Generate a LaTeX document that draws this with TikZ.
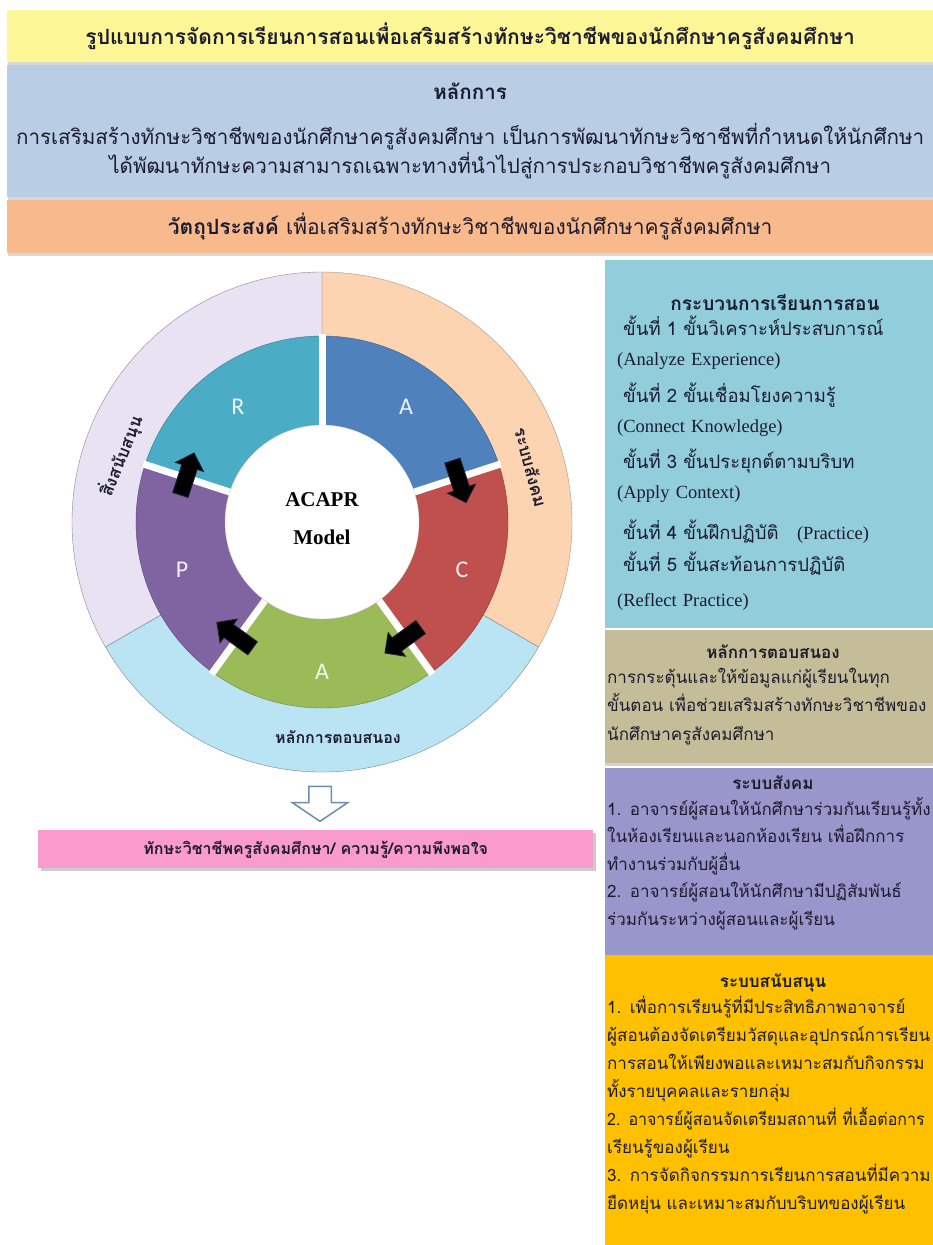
\documentclass[tikz,border=0pt]{standalone}
\usepackage{fontspec}
\setmainfont{Liberation Serif}
\newfontfamily\thaifont[Script=Thai]{Loma}
\newfontfamily\lettersans{Carlito}
\usetikzlibrary{shapes.arrows,shadows}

\definecolor{bannerYellow}{RGB}{252,246,150}
\definecolor{bannerBlue}{RGB}{185,205,229}
\definecolor{bannerOrange}{RGB}{248,186,140}
\definecolor{procBlue}{RGB}{146,205,220}
\definecolor{respTan}{RGB}{196,189,151}
\definecolor{socPurple}{RGB}{152,150,202}
\definecolor{supGold}{RGB}{255,192,0}
\definecolor{goalPink}{RGB}{250,155,205}
\definecolor{ringPeach}{RGB}{252,212,178}
\definecolor{ringLilac}{RGB}{233,226,242}
\definecolor{ringCyan}{RGB}{186,228,244}
\definecolor{segBlue}{RGB}{79,129,189}
\definecolor{segRed}{RGB}{192,80,77}
\definecolor{segGreen}{RGB}{155,187,89}
\definecolor{segPurple}{RGB}{128,100,162}
\definecolor{segTeal}{RGB}{75,172,198}
\definecolor{inkNavy}{RGB}{28,28,48}
\definecolor{arrowEdge}{RGB}{110,140,175}

\begin{document}
\begin{tikzpicture}[x=1pt,y=-1pt,
  band/.style={inner sep=0pt,anchor=north west,minimum width=926,text=inkNavy,
    drop shadow={opacity=0.3,shadow xshift=0.5pt,shadow yshift=-2.5pt}},
  boxhead/.style={text=inkNavy,font=\thaifont\bfseries\fontsize{17}{20}\selectfont},
  boxbody/.style={anchor=base west,inner sep=0pt,align=left,text width=330,text=inkNavy},
  segletter/.style={text=white,opacity=0.9,font=\lettersans\fontsize{24}{24}\selectfont},
  ringtext/.style={text=inkNavy,font=\thaifont\bfseries\fontsize{16}{16}\selectfont},
  flowarrow/.style={single arrow,fill=black,draw=inkNavy,line width=1,minimum height=44,
    inner sep=7.5pt,single arrow head extend=6.5pt}]
  \fill[white] (0,0) rectangle (933,1245);
  \useasboundingbox (0,0) rectangle (933,1245);

  % banners across the top
  \node[band,fill=bannerYellow,minimum height=52,
    font=\thaifont\bfseries\fontsize{21}{24}\selectfont] (title) at (7,10)
    {รูปแบบการจัดการเรียนการสอนเพื่อเสริมสร้างทักษะวิชาชีพของนักศึกษาครูสังคมศึกษา};
  \node[band,fill=bannerBlue,minimum height=132,align=center,
    font=\thaifont\fontsize{20.6}{29}\selectfont] (principle) at (7,65)
    {{\bfseries หลักการ}\\[16pt]
     การเสริมสร้างทักษะวิชาชีพของนักศึกษาครูสังคมศึกษา เป็นการพัฒนาทักษะวิชาชีพที่กำหนดให้นักศึกษา\\
     ได้พัฒนาทักษะความสามารถเฉพาะทางที่นำไปสู่การประกอบวิชาชีพครูสังคมศึกษา};
  \node[band,fill=bannerOrange,minimum height=53,
    font=\thaifont\fontsize{21}{24}\selectfont] (aim) at (7,200)
    {{\bfseries วัตถุประสงค์} เพื่อเสริมสร้างทักษะวิชาชีพของนักศึกษาครูสังคมศึกษา};

  % right column
  \fill[procBlue] (605,260) rectangle (933,628);
  \node[boxhead,font=\thaifont\bfseries\fontsize{19}{22}\selectfont] (procHead) at (775,302)
    {กระบวนการเรียนการสอน};
  \node[boxbody,font=\fontsize{18.5}{30}\selectfont] (procBody) at (617,335)
    {\hspace*{6pt}{\thaifont ขั้นที่ 1 ขั้นวิเคราะห์ประสบการณ์}\\
     (Analyze Experience)\\[7pt]
     \hspace*{6pt}{\thaifont ขั้นที่ 2 ขั้นเชื่อมโยงความรู้}\\
     (Connect Knowledge)\\[6pt]
     \hspace*{6pt}{\thaifont ขั้นที่ 3 ขั้นประยุกต์ตามบริบท}\\
     (Apply Context)\\[11pt]
     \hspace*{6pt}{\thaifont ขั้นที่ 4 ขั้นฝึกปฏิบัติ}\quad(Practice)\\[2pt]
     \hspace*{6pt}{\thaifont ขั้นที่ 5 ขั้นสะท้อนการปฏิบัติ}\\[5pt]
     (Reflect Practice)};

  \fill[respTan,drop shadow={opacity=0.35,shadow xshift=0pt,shadow yshift=-3pt}]
    (605,630) rectangle (933,763);
  \node[boxhead] (respHead) at (773,652) {หลักการตอบสนอง};
  \node[boxbody,font=\thaifont\fontsize{17}{28.5}\selectfont] (respBody) at (607,683)
    {การกระตุ้นและให้ข้อมูลแก่ผู้เรียนในทุก\\
     ขั้นตอน เพื่อช่วยเสริมสร้างทักษะวิชาชีพของ\\
     นักศึกษาครูสังคมศึกษา};

  \fill[socPurple] (605,768) rectangle (933,955);
  \node[boxhead] (socHead) at (773,783) {ระบบสังคม};
  \node[boxbody,font=\thaifont\fontsize{17}{27.5}\selectfont] (socBody) at (607,815)
    {1. อาจารย์ผู้สอนให้นักศึกษาร่วมกันเรียนรู้ทั้ง\\
     ในห้องเรียนและนอกห้องเรียน เพื่อฝึกการ\\
     ทำงานร่วมกับผู้อื่น\\
     2. อาจารย์ผู้สอนให้นักศึกษามีปฏิสัมพันธ์\\
     ร่วมกันระหว่างผู้สอนและผู้เรียน};

  \fill[supGold] (605,955) rectangle (933,1245);
  \node[boxhead] (supHead) at (773,983) {ระบบสนับสนุน};
  \node[boxbody,font=\thaifont\fontsize{17}{28}\selectfont] (supBody) at (607,1013)
    {1. เพื่อการเรียนรู้ที่มีประสิทธิภาพอาจารย์\\
     ผู้สอนต้องจัดเตรียมวัสดุและอุปกรณ์การเรียน\\
     การสอนให้เพียงพอและเหมาะสมกับกิจกรรม\\
     ทั้งรายบุคคลและรายกลุ่ม\\
     \scalebox{0.94}[1]{2. อาจารย์ผู้สอนจัดเตรียมสถานที่ ที่เอื้อต่อการ}\\
     เรียนรู้ของผู้เรียน\\
     3. การจัดกิจกรรมการเรียนการสอนที่มีความ\\
     ยืดหยุ่น และเหมาะสมกับบริบทของผู้เรียน};

  % the ACAPR wheel
  \begin{scope}[shift={(322,522)},y=1pt]
    \filldraw[fill=ringPeach,draw=ringPeach!70!black] (0,0) -- (-30:250)
      arc[start angle=-30,end angle=90,radius=250] -- cycle;
    \filldraw[fill=ringLilac,draw=ringLilac!60!black] (0,0) -- (90:250)
      arc[start angle=90,end angle=210,radius=250] -- cycle;
    \filldraw[fill=ringCyan,draw=ringCyan!60!black] (0,0) -- (210:250)
      arc[start angle=210,end angle=330,radius=250] -- cycle;

    \filldraw[fill=segBlue,draw=segBlue!70!black] (18:97) -- (18:186)
      arc[start angle=18,end angle=90,radius=186] -- (90:97)
      arc[start angle=90,end angle=18,radius=97] -- cycle;
    \filldraw[fill=segRed,draw=segRed!70!black] (-54:97) -- (-54:186)
      arc[start angle=-54,end angle=18,radius=186] -- (18:97)
      arc[start angle=18,end angle=-54,radius=97] -- cycle;
    \filldraw[fill=segGreen,draw=segGreen!70!black] (-126:97) -- (-126:186)
      arc[start angle=-126,end angle=-54,radius=186] -- (-54:97)
      arc[start angle=-54,end angle=-126,radius=97] -- cycle;
    \filldraw[fill=segPurple,draw=segPurple!70!black] (162:97) -- (162:186)
      arc[start angle=162,end angle=234,radius=186] -- (234:97)
      arc[start angle=234,end angle=162,radius=97] -- cycle;
    \filldraw[fill=segTeal,draw=segTeal!70!black] (90:97) -- (90:186)
      arc[start angle=90,end angle=162,radius=186] -- (162:97)
      arc[start angle=162,end angle=90,radius=97] -- cycle;
    \draw[white,line width=7] (90:92) -- (90:188);
    \draw[white,line width=7] (18:92) -- (18:188);
    \draw[white,line width=7] (-54:92) -- (-54:188);
    \draw[white,line width=7] (-126:92) -- (-126:188);
    \draw[white,line width=7] (162:92) -- (162:188);
    \filldraw[fill=white,draw=gray!40] (0,0) circle[radius=97];

    \node[segletter] (letA) at (54:143) {A};
    \node[segletter] (letC) at (-19:148) {C};
    \node[segletter] (letA2) at (-90:150) {A};
    \node[segletter] (letP) at (199:148) {P};
    \node[segletter] (letR) at (126:143) {R};
    \node[align=center,font=\bfseries\fontsize{21}{38}\selectfont] (model) at (0,3)
      {ACAPR\\Model};

    \node[flowarrow,rotate=-72] (stepAC) at (18:143) {};
    \node[flowarrow,rotate=-144] (stepCA) at (-54:143) {};
    \node[flowarrow,rotate=144] (stepAP) at (-126:143) {};
    \node[flowarrow,rotate=72] (stepPR) at (162:143) {};

    \node[ringtext,font=\thaifont\bfseries\fontsize{17}{17}\selectfont,rotate=-75]
      (social) at (209,55) {ระบบสังคม};
    \node[ringtext,font=\thaifont\bfseries\fontsize{17}{17}\selectfont,rotate=68]
      (support) at (-201,66) {สิ่งสนับสนุน};
    \node[ringtext] (respond) at (16,-215) {หลักการตอบสนอง};
  \end{scope}

  % outcome
  \node[single arrow,draw=arrowEdge,fill=white,line width=1.5,rotate=-90,
    minimum height=35,inner sep=10.5pt,single arrow head extend=16.5pt,
    single arrow tip angle=112] (down) at (320,800) {};
  \node[fill=goalPink,minimum width=555,minimum height=38,anchor=north west,inner sep=0pt,
    text=inkNavy,font=\thaifont\bfseries\fontsize{16}{20}\selectfont,
    drop shadow={opacity=0.4,shadow xshift=3pt,shadow yshift=-3pt}] (outcome) at (38,830)
    {ทักษะวิชาชีพครูสังคมศึกษา/ ความรู้/ความพึงพอใจ};
\end{tikzpicture}
\end{document}
